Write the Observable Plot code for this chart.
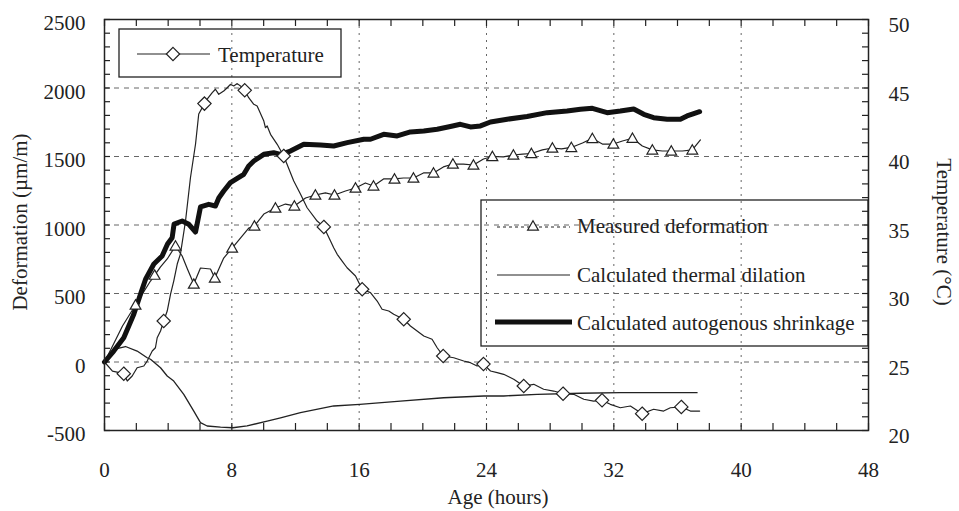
<!DOCTYPE html>
<html><head><meta charset="utf-8">
<script src="https://cdn.jsdelivr.net/npm/d3@7"></script>
<script src="https://cdn.jsdelivr.net/npm/@observablehq/plot@0.6"></script>
<style>
body{margin:0;background:#fff;}
#chart svg{display:block;}
#chart svg text{font-family:"Liberation Serif","Times New Roman",serif;}
</style></head><body><div id="chart"></div>
<script>
// ---- Data ----
const xTicks = [0, 8, 16, 24, 32, 40, 48];
const yTicks = [-500, 0, 500, 1000, 1500, 2000, 2500];
const tempTicks = [20, 25, 30, 35, 40, 45, 50];

const tempHours = [0,0.50,1.21,1.43,1.74,2.05,2.47,2.68,3.00,3.20,3.31,3.52,3.72,3.94,4.15,4.35,4.57,4.77,5.09,5.40,5.72,5.92,6.28,6.45,6.77,6.97,7.18,7.49,7.71,7.91,8.12,8.34,8.54,8.81,9.06,9.38,9.59,10.01,10.11,10.22,10.43,10.85,11.26,11.89,12.31,12.73,13.36,13.78,14.20,14.40,14.62,14.93,15.24,15.45,15.77,16.19,16.71,17.13,17.44,17.86,18.17,18.80,19.22,19.64,20.06,20.58,20.90,21.28,21.94,22.57,22.99,23.41,23.81,24.25,24.67,25.08,25.71,26.34,26.97,27.59,28.22,28.81,29.48,30.11,30.73,31.26,31.78,32.41,33.04,33.78,34.50,35.13,35.55,36.24,36.81,37.39];
const tempValues = [25.0,24.34,24.15,23.61,23.98,24.58,24.71,25.07,25.80,26.04,26.77,27.26,27.99,28.72,29.96,30.91,32.15,32.88,35.29,38.45,40.91,43.10,43.86,44.18,44.66,44.91,44.54,44.78,45.02,45.27,45.15,45.32,45.15,44.83,44.29,43.81,43.69,42.59,42.10,42.23,41.62,40.89,40.04,38.21,37.26,36.26,35.29,34.86,33.83,33.34,32.86,32.37,31.88,31.64,31.28,30.31,30.06,29.45,28.85,28.72,28.48,28.12,27.63,27.26,26.90,26.66,26.04,25.44,25.31,25.07,24.95,24.71,24.85,24.34,24.22,24.10,23.74,23.25,23.37,23.01,22.88,22.69,22.64,22.28,22.15,22.20,21.91,21.66,21.79,21.23,21.55,21.42,21.66,21.72,21.42,21.42];
const tempMarkerHours = [1.21,3.72,6.28,8.81,11.26,13.78,16.19,18.80,21.28,23.81,26.34,28.81,31.26,33.78,36.24];
const tempMarkerValues = [24.15,27.99,43.86,44.83,40.04,34.86,30.31,28.12,25.44,24.85,23.25,22.69,22.20,21.23,21.72];

const measHours = [0,0.57,1.13,1.95,2.89,3.52,3.94,4.46,4.88,5.21,5.61,6.03,6.66,6.93,7.49,8.02,8.54,9.06,9.42,10.01,10.74,11.37,11.93,12.63,13.25,13.88,14.45,15.14,15.77,16.39,16.90,17.53,18.22,18.78,19.41,20.04,20.67,21.29,21.89,22.55,23.18,23.81,24.37,25.06,25.69,26.26,26.82,27.51,28.14,28.71,29.33,30.03,30.65,31.28,31.97,32.54,33.17,33.79,34.42,35.05,35.61,36.31,36.93,37.44];
const measValues = [0,131,263,416,591,694,752,847,774,679,569,686,679,613,759,832,905,978,993,1080,1124,1153,1139,1197,1219,1234,1219,1248,1270,1307,1285,1336,1336,1343,1343,1380,1380,1424,1445,1445,1438,1482,1500,1497,1511,1518,1522,1548,1562,1555,1566,1599,1632,1591,1591,1613,1633,1577,1548,1540,1540,1540,1548,1621];
const measMarkerHours = [1.95,3.15,4.46,5.61,6.93,8.02,9.42,10.74,11.93,13.25,14.45,15.77,16.90,18.22,19.41,20.67,21.89,23.18,24.37,25.69,26.82,28.14,29.33,30.65,31.97,33.17,34.42,35.61,36.93];
const measMarkerValues = [416,634,847,569,613,832,993,1124,1139,1219,1219,1270,1285,1336,1343,1380,1445,1438,1500,1511,1522,1562,1566,1632,1591,1633,1548,1540,1548];

const thermHours = [0,0.58,1.32,2.05,2.68,2.89,3.52,3.94,4.35,4.98,5.61,6.03,6.45,7.29,8.06,8.96,10.22,11.06,12.31,14.40,16.04,18.59,21.31,23.83,25.08,27.18,29.90,32.41,34.72,37.23];
const thermValues = [0,93,113,80,31,20,-42,-102,-139,-236,-358,-443,-467,-475,-480,-467,-431,-407,-370,-321,-309,-285,-261,-248,-248,-236,-228,-224,-224,-224];

const autoHours = [0,0.58,1.21,1.84,2.26,2.58,3.10,3.62,3.96,4.25,4.37,4.88,5.30,5.72,6.03,6.55,6.97,7.18,7.49,7.91,8.34,8.75,9.06,9.38,10.01,10.63,11.06,11.68,12.52,13.57,14.40,15.25,16.29,16.71,17.54,18.39,19.22,20.06,20.90,21.73,22.36,22.99,23.62,24.25,25.30,26.55,27.81,29.06,29.90,30.65,31.58,32.41,33.25,33.88,34.50,35.35,36.18,36.60,37.02,37.39];
const autoValues = [0,80,177,348,494,604,715,774,861,907,1007,1029,1005,949,1132,1151,1139,1197,1248,1309,1340,1370,1431,1467,1516,1528,1516,1540,1589,1584,1577,1601,1626,1626,1662,1650,1679,1686,1699,1719,1735,1716,1723,1752,1772,1792,1820,1832,1845,1852,1820,1832,1847,1808,1783,1772,1772,1796,1813,1827];

const legendLabels = ["Temperature", "Measured deformation", "Calculated thermal dilation", "Calculated autogenous shrinkage"];
const xTitle = "Age (hours)";
const yTitle = "Deformation (\u00b5m/m)";
const y2Title = "Temperature (\u00b0C)";

// ---- Build ----
const tScale = d3.scaleLinear().domain([tempTicks[0], tempTicks[tempTicks.length-1]]).range([yTicks[0], yTicks[yTicks.length-1]]);
const rightLabel = new Map(yTicks.map((d, i) => [d, String(tempTicks[i])]));

const tempData = tempHours.map((h, i) => ({h, v: tScale(tempValues[i])}));
const tempMarks = tempMarkerHours.map((h, i) => ({h, v: tScale(tempMarkerValues[i])}));
const measData = measHours.map((h, i) => ({h, v: measValues[i]}));
const measMarks = measMarkerHours.map((h, i) => ({h, v: measMarkerValues[i]}));
const thermData = thermHours.map((h, i) => ({h, v: thermValues[i]}));
const autoData = autoHours.map((h, i) => ({h, v: autoValues[i]}));

const W = 959, H = 511, mL = 104, mR = 91, mT = 19, mB = 81;
const pw = W - mL - mR, ph = H - mT - mB;
const ink = "#222";
const font = "Liberation Serif";

const minorX = d3.range(xTicks[0], xTicks[xTicks.length-1] + 0.001, 2);
const minorY = d3.range(yTicks[0], yTicks[yTicks.length-1] + 0.001, 100);

const chart = Plot.plot({
  width: W, height: H,
  marginLeft: mL, marginRight: mR, marginTop: mT, marginBottom: mB,
  style: {fontFamily: font, fontSize: "21px", color: ink, background: "#fff"},
  x: {domain: [xTicks[0], xTicks[xTicks.length-1]], axis: null},
  y: {domain: [yTicks[0], yTicks[yTicks.length-1]], axis: null},
  marks: [
    Plot.gridX(xTicks.slice(1, -1), {stroke: "#666", strokeOpacity: 1, strokeWidth: 1, strokeDasharray: "2,5"}),
    Plot.gridY(yTicks.slice(1, -1), {stroke: "#666", strokeOpacity: 1, strokeWidth: 1, strokeDasharray: "5,5"}),
    Plot.tickX(minorX, {x: d => d, insetTop: ph - 7, stroke: ink, strokeWidth: 1.2}),
    Plot.tickX(minorX, {x: d => d, insetBottom: ph - 7, stroke: ink, strokeWidth: 1.2}),
    Plot.tickY(minorY, {y: d => d, insetRight: pw - 6, stroke: ink, strokeWidth: 1.2}),
    Plot.tickY(minorY, {y: d => d, insetLeft: pw - 6, stroke: ink, strokeWidth: 1.2}),
    Plot.axisX(xTicks, {anchor: "bottom", tickSize: 0, tickPadding: 32, tickFormat: d => String(d), label: null, fontSize: 21, fontFamily: font}),
    Plot.axisY(yTicks, {anchor: "left", tickSize: 0, tickPadding: 19, dy: 4, tickFormat: d => String(d), label: null, fontSize: 21, fontFamily: font}),
    Plot.axisY(yTicks, {anchor: "right", tickSize: 0, tickPadding: 20, dy: 6, tickFormat: d => rightLabel.get(d), label: null, fontSize: 21, fontFamily: font}),
    Plot.line(thermData, {x: "h", y: "v", stroke: ink, strokeWidth: 1.3}),
    Plot.line(measData, {x: "h", y: "v", stroke: ink, strokeWidth: 1.2}),
    Plot.line(tempData, {x: "h", y: "v", stroke: ink, strokeWidth: 1.2}),
    Plot.line(autoData, {x: "h", y: "v", stroke: "#111", strokeWidth: 5, strokeLinejoin: "round"}),
    Plot.dot(measMarks, {x: "h", y: "v", symbol: "triangle", r: 4, fill: "#fff", stroke: ink, strokeWidth: 1.2, dy: 1}),
    Plot.dot(tempMarks, {x: "h", y: "v", symbol: "diamond2", r: 6, fill: "#fff", stroke: ink, strokeWidth: 1.2}),
    Plot.frame({stroke: ink, strokeWidth: 1.5})
  ]
});
document.getElementById("chart").appendChild(chart);

// ---- Titles and legends (layout in pixels) ----
const svg = d3.select(chart);
const g = svg.append("g").attr("font-family", font).attr("font-size", 21).attr("fill", ink).attr("text-anchor", "start");
g.append("text").attr("x", 498).attr("y", 504).attr("text-anchor", "middle").text(xTitle);
g.append("text").attr("transform", "translate(27,222) rotate(-90)").attr("text-anchor", "middle").text(yTitle);
g.append("text").attr("transform", "translate(937,232) rotate(90)").attr("text-anchor", "middle").text(y2Title);

// legend 1
const L1 = g.append("g");
L1.append("rect").attr("x", 119).attr("y", 29).attr("width", 222).attr("height", 48).attr("fill", "none").attr("stroke", ink).attr("stroke-width", 1.3);
L1.append("line").attr("x1", 137).attr("x2", 210).attr("y1", 54).attr("y2", 54).attr("stroke", ink).attr("stroke-width", 1.2);
L1.append("path").attr("d", d3.symbol(d3.symbolDiamond2, Math.PI * 36)()).attr("transform", "translate(173,54)").attr("fill", "#fff").attr("stroke", ink).attr("stroke-width", 1.2);
L1.append("text").attr("x", 218).attr("y", 62).attr("text-anchor", "start").text(legendLabels[0]);

// legend 2
const L2 = g.append("g");
L2.append("rect").attr("x", 481).attr("y", 200).attr("width", 387).attr("height", 146).attr("fill", "none").attr("stroke", ink).attr("stroke-width", 1.3);
L2.append("line").attr("x1", 497).attr("x2", 570).attr("y1", 227).attr("y2", 227).attr("stroke", ink).attr("stroke-width", 1.2).attr("stroke-dasharray", "3,3");
L2.append("path").attr("d", d3.symbol(d3.symbolTriangle, Math.PI * 16)()).attr("transform", "translate(533,227)").attr("fill", "#fff").attr("stroke", ink).attr("stroke-width", 1.2);
L2.append("text").attr("x", 577).attr("y", 233).attr("text-anchor", "start").text(legendLabels[1]);
L2.append("line").attr("x1", 497).attr("x2", 570).attr("y1", 275).attr("y2", 275).attr("stroke", ink).attr("stroke-width", 1.2);
L2.append("text").attr("x", 577).attr("y", 282).attr("text-anchor", "start").text(legendLabels[2]);
L2.append("line").attr("x1", 495).attr("x2", 572).attr("y1", 322).attr("y2", 322).attr("stroke", "#111").attr("stroke-width", 5);
L2.append("text").attr("x", 577).attr("y", 330).attr("text-anchor", "start").text(legendLabels[3]);
</script>
</body></html>
